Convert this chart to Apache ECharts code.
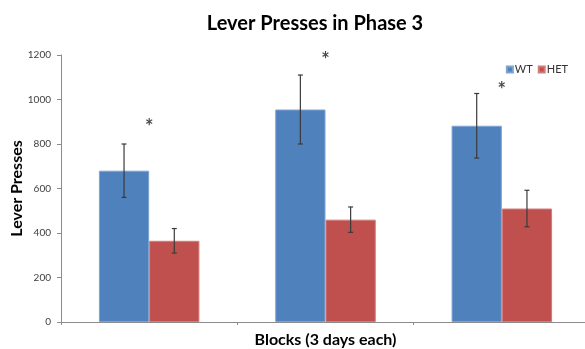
<!DOCTYPE html>
<html><head><meta charset="utf-8">
<script src="https://cdn.jsdelivr.net/npm/echarts@6/dist/echarts.min.js"></script>
<style>html,body{margin:0;padding:0;background:#fff}#c{width:585px;height:349px}</style>
</head><body><div id="c"></div>
<script>
const categories = ['Block 1', 'Block 2', 'Block 3'];
const wtValues = [680, 955, 882];
const wtErrors = [120, 155, 145];
const hetValues = [365, 460, 510];
const hetErrors = [55, 57, 82];
const starValues = [890, 1193, 1057];
const yTicks = [0, 200, 400, 600, 800, 1000, 1200];

const GAP = 0.43;
const FONT = 'Lato, "Open Sans", sans-serif';

function errItem(sign) {
  return function (params, api) {
    const i = api.value(0);
    const v = api.value(1);
    const e = api.value(2);
    const band = api.size([1, 0])[0];
    const bw = band * (1 - GAP) / 2;
    const cx = api.coord([i, 0])[0] + sign * bw / 2;
    const top = api.coord([i, v + e])[1];
    const bot = api.coord([i, v - e])[1];
    const cap = 2.5;
    const st = { stroke: '#3a3a3a', lineWidth: 1.2 };
    return { type: 'group', children: [
      { type: 'line', shape: { x1: cx, y1: top, x2: cx, y2: bot }, style: st },
      { type: 'line', shape: { x1: cx - cap, y1: top, x2: cx + cap, y2: top }, style: st },
      { type: 'line', shape: { x1: cx - cap, y1: bot, x2: cx + cap, y2: bot }, style: st }
    ]};
  };
}

const chart = echarts.init(document.getElementById('c'), null, { renderer: 'canvas' });
chart.setOption({
  animation: false,
  backgroundColor: '#fff',
  title: {
    text: 'Lever Presses in Phase 3', left: 310, top: 9, textAlign: 'center',
    textStyle: { fontFamily: FONT, fontWeight: 'bold', fontSize: 20, color: '#000' }
  },
  legend: {
    data: ['WT', 'HET'], right: 12, top: 59, itemWidth: 6, itemHeight: 6, itemGap: 5,
    icon: 'rect',
    textStyle: { fontFamily: FONT, fontSize: 11, color: '#333', padding: [0, 0, 0, -3] }
  },
  grid: { left: 61, right: -5, top: 55, bottom: 27, containLabel: false, outerBoundsMode: 'none' },
  xAxis: {
    type: 'category', data: categories,
    name: 'Blocks (3 days each)', nameLocation: 'middle', nameGap: 10, nameMoveOverlap: false,
    nameTextStyle: { fontFamily: FONT, fontWeight: 'bold', fontSize: 16, color: '#000' },
    axisLine: { lineStyle: { color: '#8c8c8c' } },
    axisTick: { show: true, length: 3, lineStyle: { color: '#8c8c8c' } },
    axisLabel: { show: false }
  },
  yAxis: {
    type: 'value', min: yTicks[0], max: yTicks[yTicks.length - 1], interval: 200,
    name: 'Lever Presses', nameLocation: 'middle', nameGap: 36, nameRotate: 90, nameMoveOverlap: false,
    nameTextStyle: { fontFamily: FONT, fontWeight: 'bold', fontSize: 16, color: '#000' },
    axisLine: { show: true, lineStyle: { color: '#8c8c8c' } },
    axisTick: { show: true, length: 4, lineStyle: { color: '#8c8c8c' } },
    splitLine: { show: false },
    axisLabel: { fontFamily: FONT, fontSize: 10, color: '#404040', margin: 10, formatter: v => String(v) }
  },
  series: [
    { name: 'WT', type: 'bar', data: wtValues, barGap: '0%', barCategoryGap: (GAP * 100) + '%',
      itemStyle: { color: '#4F81BD', borderColor: '#7ea3d2', borderWidth: 1 } },
    { name: 'HET', type: 'bar', data: hetValues,
      itemStyle: { color: '#C0504D', borderColor: '#d27d7a', borderWidth: 1 } },
    { type: 'custom', renderItem: errItem(-1), z: 5,
      data: wtValues.map((v, i) => [i, v, wtErrors[i]]) },
    { type: 'custom', renderItem: errItem(1), z: 5,
      data: hetValues.map((v, i) => [i, v, hetErrors[i]]) },
    { type: 'scatter', symbolSize: 0, data: starValues, z: 6, silent: true,
      label: { show: true, position: 'inside', formatter: '*', offset: [0, 4],
        fontFamily: FONT, fontWeight: 'bold', fontSize: 20, color: '#1a1a1a' } }
  ]
});
</script></body></html>
